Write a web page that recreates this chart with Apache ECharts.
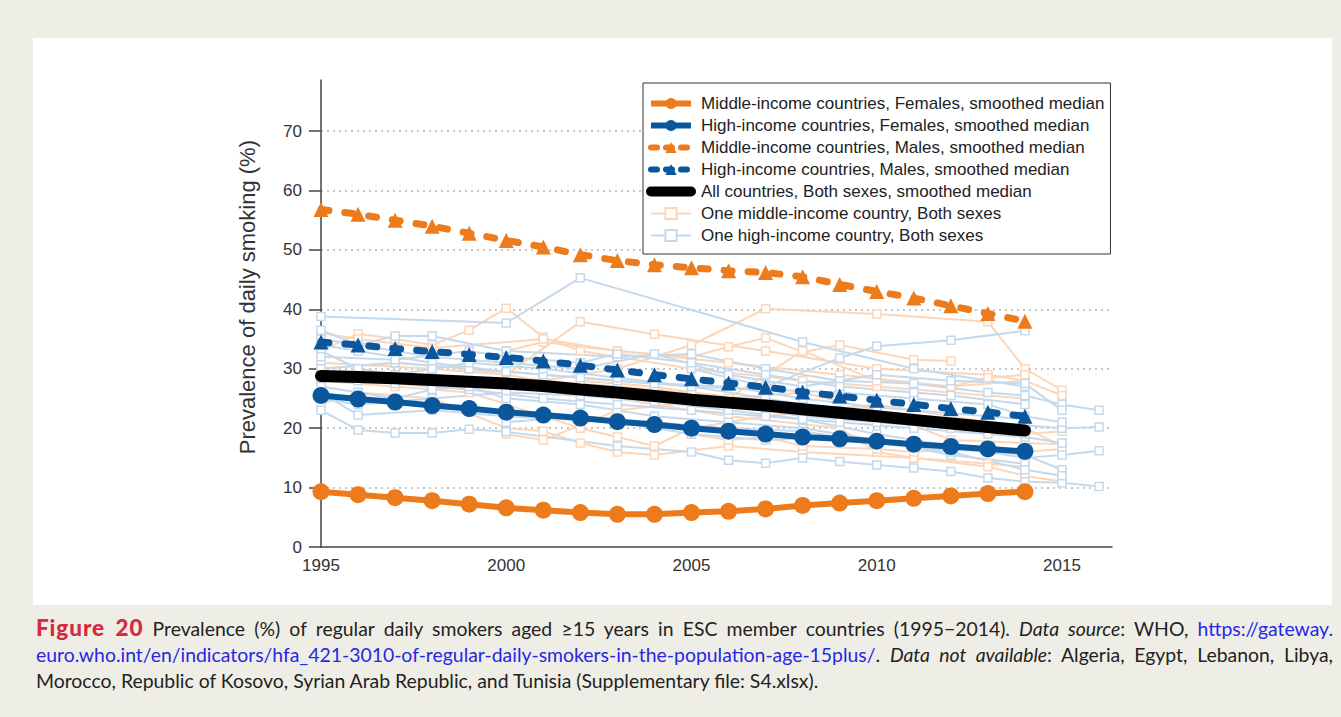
<!DOCTYPE html>
<html>
<head>
<meta charset="utf-8">
<script src="https://cdn.jsdelivr.net/npm/echarts@6/dist/echarts.min.js"></script>
<style>
  html, body { margin:0; padding:0; width:1341px; height:717px; background:#efeee6; overflow:hidden; }
  #panel { position:absolute; left:33px; top:38px; width:1299px; height:567px; background:#ffffff; }
  #chart { position:absolute; left:0; top:0; width:1341px; height:717px; }
  #caption { position:absolute; left:36px; top:615px; width:1297px; font-family:Lato, "Open Sans", sans-serif; font-size:19.4px; line-height:26px; color:#222; }
  #caption .ln { display:block; white-space:nowrap; }
  #caption .j { text-align:justify; text-align-last:justify; }
  #caption .fig { color:#d42a3f; font-weight:900; font-size:22.5px; letter-spacing:0.9px; }
  #caption .lk { color:#2626e6; }
</style>
</head>
<body>
<div id="panel"></div>
<div id="chart"></div>
<div id="caption">
  <div class="ln j"><span class="fig">Figure 20</span> Prevalence (%) of regular daily smokers aged &ge;15 years in ESC member countries (1995&minus;2014). <i>Data source</i>: WHO, <span class="lk">https://gateway.</span></div>
  <div class="ln j"><span class="lk">euro.who.int/en/indicators/hfa_421-3010-of-regular-daily-smokers-in-the-population-age-15plus/</span>. <i>Data not available</i>: Algeria, Egypt, Lebanon, Libya,</div>
  <div class="ln">Morocco, Republic of Kosovo, Syrian Arab Republic, and Tunisia (Supplementary file: S4.xlsx).</div>
</div>
<script>
// ---------- DATA ----------
const years = [1995,1996,1997,1998,1999,2000,2001,2002,2003,2004,2005,2006,2007,2008,2009,2010,2011,2012,2013,2014];
const xTicks = [1995, 2000, 2005, 2010, 2015];
const yTicks = [0, 10, 20, 30, 40, 50, 60, 70];

const midFemales  = [9.3,8.8,8.3,7.8,7.2,6.6,6.2,5.8,5.5,5.5,5.8,6.0,6.4,7.0,7.4,7.8,8.2,8.6,9.0,9.3];
const highFemales = [25.5,24.9,24.4,23.8,23.3,22.7,22.2,21.7,21.1,20.6,20.0,19.5,19.0,18.5,18.2,17.8,17.3,16.9,16.5,16.1];
const midMales    = [56.8,56.0,55.0,54.0,52.8,51.6,50.5,49.2,48.2,47.5,47.0,46.5,46.2,45.5,44.2,43.0,41.9,40.6,39.3,38.0];
const highMales   = [34.5,34.0,33.4,32.9,32.4,31.9,31.3,30.6,29.8,29.0,28.3,27.6,26.9,26.1,25.4,24.7,24.0,23.3,22.7,22.0];
const allBoth     = [28.8,28.6,28.4,28.1,27.8,27.5,27.1,26.5,26.0,25.4,24.8,24.3,23.8,23.2,22.6,22.0,21.4,20.8,20.2,19.6];

// individual countries: [year, value]
const midCountries = [
  [[1995,33],[1996,35.9],[1997,35],[1998,34],[1999,36.5],[2000,40.2],[2001,35.3],[2002,33],[2003,32],[2005,30],[2008,28],[2010,27],[2012,26],[2014,25]],
  [[1995,31],[1998,30],[2000,29],[2002,37.9],[2004,35.8],[2007,33],[2010,30],[2013,29],[2014,28]],
  [[2000,27],[2003,30],[2005,34],[2007,40.1],[2010,39.2],[2013,37.9],[2014,30],[2015,26.4]],
  [[2000,33],[2001,34.5],[2003,33],[2005,32],[2006,33.7],[2007,35.2],[2008,32.8],[2009,34],[2011,31.5],[2012,31.3]],
  [[1995,28],[1997,27],[1999,26],[2000,24],[2001,22],[2002,20],[2003,18.5],[2004,17],[2005,20],[2007,22],[2010,24],[2014,20],[2015,17]],
  [[1995,24],[1996,26],[1998,25],[2000,20],[2001,19.5],[2002,17.5],[2003,16],[2004,15.5],[2006,17],[2008,16],[2011,15],[2013,14],[2014,13.5]],
  [[2000,19],[2001,18],[2003,23],[2006,25],[2008,26],[2010,23],[2012,18],[2014,17.5],[2015,17.3]],
  [[1995,36],[1996,35],[1998,33.5],[2001,35],[2003,33],[2006,31],[2009,29],[2012,27],[2014,28],[2015,25.5]],
  [[2002,28],[2004,27],[2006,25],[2008,33],[2010,28],[2012,27],[2013,28.5],[2014,29]],
  [[2000,28],[2003,25],[2006,22],[2009,20],[2010,16],[2011,15],[2013,13.5],[2014,12],[2015,11]],
  [[1995,30],[1997,31],[1999,30],[2001,28],[2003,27],[2005,26],[2008,24],[2010,22],[2012,21],[2014,19],[2015,19.5]],
  [[2005,19],[2006,18],[2007,18.5],[2008,17],[2010,16.5],[2011,16],[2012,16.5],[2013,17],[2014,16],[2015,16.5]]
];
const highCountries = [
  [[1995,38.8],[2000,37.7],[2002,45.3],[2008,34.5],[2011,30],[2014,27]],
  [[2005,30],[2007,27],[2009,31.8],[2010,33.8],[2012,34.8],[2014,36.4]],
  [[1995,23],[1996,19.7],[1997,19.2],[1998,19.2],[1999,19.8],[2000,19.4],[2003,17],[2005,16],[2006,14.6],[2007,14.1],[2008,15],[2009,14.4],[2010,13.8],[2011,13.3],[2012,12.7],[2013,11.6],[2014,11],[2015,10.8],[2016,10.2]],
  [[1995,36.5],[1996,34],[1997,35.5],[1998,35.5],[2000,33],[2003,32],[2005,32.5],[2007,30],[2009,28],[2011,27.5],[2013,26],[2014,25.5],[2015,24],[2016,23]],
  [[1995,33],[1996,30],[1998,28],[2000,27],[2002,26],[2004,25],[2006,24],[2008,22],[2010,21],[2012,20],[2014,20.5],[2015,20],[2016,20.2]],
  [[1995,26],[1996,22.2],[1998,23],[2000,22],[2003,21],[2005,19],[2007,18],[2009,18.5],[2011,17],[2013,16],[2014,15],[2015,15.5],[2016,16.2]],
  [[1995,30],[1997,31],[1999,30],[2001,29],[2003,28],[2005,27],[2007,26.5],[2009,26],[2011,25],[2013,24],[2014,22],[2015,21]],
  [[1995,35],[1998,32],[2000,31],[2002,30],[2004,32.5],[2006,29],[2008,27],[2010,29],[2012,28],[2014,27.5],[2015,23]],
  [[1995,28],[1997,27.5],[1999,26.5],[2001,25],[2003,24],[2005,23],[2007,22],[2009,21],[2011,20],[2013,19],[2014,18.5],[2015,17.5]],
  [[1995,25],[1996,24],[1998,25],[2000,26],[2002,25.5],[2004,24.5],[2006,23],[2008,21.5],[2010,19],[2012,17],[2014,15.5],[2015,13]],
  [[1995,32],[1997,31.5],[1999,33],[2000,32],[2002,31],[2003,32.5],[2005,31],[2007,29],[2009,27],[2011,26],[2012,25.5],[2014,24]],
  [[1995,27],[1996,26],[1997,25],[1998,26.5],[1999,27],[2000,25],[2002,24],[2004,22],[2006,21],[2008,20],[2010,18],[2012,15.5],[2014,14]],
  [[1995,34],[1996,33],[1998,31],[2000,29.5],[2002,28.5],[2004,27.5],[2006,27],[2008,25],[2010,23.5],[2012,22.5],[2014,21.5]],
  [[2000,21],[2002,22],[2004,21],[2006,20],[2008,19.5],[2010,17.5],[2012,16],[2014,13],[2015,12]],
  [[1995,29],[1996,28],[1997,29],[1998,30],[1999,31],[2001,30],[2003,28.5],[2005,27],[2007,25],[2009,23],[2011,21.5],[2013,20],[2014,19]]
];

const names = {
  mf: 'Middle-income countries, Females, smoothed median',
  hf: 'High-income countries, Females, smoothed median',
  mm: 'Middle-income countries, Males, smoothed median',
  hm: 'High-income countries, Males, smoothed median',
  all: 'All countries, Both sexes, smoothed median',
  oneMid: 'One middle-income country, Both sexes',
  oneHigh: 'One high-income country, Both sexes'
};

// ---------- STYLE ----------
const ORANGE = '#ee7b1b', BLUE = '#0b579e', LORANGE = '#fbd6b8', LBLUE = '#c5d9ed';
const pair = arr => years.map((y, i) => [y, arr[i]]);

const series = [];
midCountries.forEach(d => series.push({
  type:'line', name:names.oneMid, data:d, z:2, symbol:'rect', symbolSize:8, showAllSymbol:true,
  lineStyle:{color:LORANGE, width:2}, itemStyle:{color:'#fff', borderColor:LORANGE, borderWidth:1.5},
  emphasis:{disabled:true}, animation:false
}));
highCountries.forEach(d => series.push({
  type:'line', name:names.oneHigh, data:d, z:2, symbol:'rect', symbolSize:8, showAllSymbol:true,
  lineStyle:{color:LBLUE, width:2}, itemStyle:{color:'#fff', borderColor:LBLUE, borderWidth:1.5},
  emphasis:{disabled:true}, animation:false
}));
series.push({ type:'line', name:names.all, data:pair(allBoth), z:5, symbol:'none',
  lineStyle:{color:'#000', width:12, cap:'round'}, itemStyle:{color:'#000'}, animation:false });
series.push({ type:'line', name:names.mf, data:pair(midFemales), z:6, symbol:'circle', symbolSize:17, showAllSymbol:true,
  lineStyle:{color:ORANGE, width:6}, itemStyle:{color:ORANGE}, animation:false });
series.push({ type:'line', name:names.hf, data:pair(highFemales), z:6, symbol:'circle', symbolSize:17, showAllSymbol:true,
  lineStyle:{color:BLUE, width:6}, itemStyle:{color:BLUE}, animation:false });
series.push({ type:'line', name:names.mm, data:pair(midMales), z:6, symbol:'triangle', symbolSize:15, showAllSymbol:true,
  lineStyle:{color:ORANGE, width:7, type:[8,16], cap:'round'}, itemStyle:{color:ORANGE}, animation:false });
series.push({ type:'line', name:names.hm, data:pair(highMales), z:6, symbol:'triangle', symbolSize:15, showAllSymbol:true,
  lineStyle:{color:BLUE, width:7, type:[8,16], cap:'round'}, itemStyle:{color:BLUE}, animation:false });

const chart = echarts.init(document.getElementById('chart'), null, {renderer:'svg'});
chart.setOption({
  backgroundColor:'transparent',
  animation:false,
  grid:{left:321, right:229, top:80, bottom:170, containLabel:false},
  xAxis:{
    type:'value', min:xTicks[0], max:2016.35, interval:5,
    axisLine:{show:true, lineStyle:{color:'#444', width:1.5}},
    axisTick:{show:false},
    axisLabel:{color:'#333', fontSize:17, fontFamily:'Liberation Sans, Arial, sans-serif', margin:10, showMaxLabel:false,
      formatter: v => xTicks.includes(v) ? String(v) : ''},
    splitLine:{show:false}
  },
  yAxis:{
    type:'value', min:yTicks[0], max:78.6, interval:10,
    axisLine:{show:true, lineStyle:{color:'#444', width:1.5}},
    axisTick:{show:true, length:12, lineStyle:{color:'#444', width:1.5}},
    axisLabel:{color:'#333', fontSize:17, fontFamily:'Liberation Sans, Arial, sans-serif', margin:19, showMaxLabel:false,
      formatter: v => yTicks.includes(v) ? String(v) : ''},
    splitLine:{show:true, showMinLine:false, showMaxLine:false, lineStyle:{color:'#b5b5b5', type:[2,4], width:1.5}}
  },
  legend:{
    orient:'vertical', left:643, top:83, padding:[12,6,10,3],
    borderColor:'#333', borderWidth:1, backgroundColor:'#fff',
    itemWidth:40, itemHeight:14, itemGap:5,
    textStyle:{fontSize:17, lineHeight:17, color:'#222', fontFamily:'Liberation Sans, Arial, sans-serif', padding:[0,0,0,5]},
    selectedMode:false,
    data:[
      {name:names.mf, lineStyle:{width:6}},
      {name:names.hf, lineStyle:{width:6}},
      {name:names.mm, lineStyle:{width:6, type:[6,9], cap:'round'}},
      {name:names.hm, lineStyle:{width:6, type:[6,9], cap:'round'}},
      {name:names.all, lineStyle:{width:10, cap:'round'}, itemStyle:{color:'rgba(0,0,0,0)', borderWidth:0}},
      {name:names.oneMid, lineStyle:{width:2}},
      {name:names.oneHigh, lineStyle:{width:2}}
    ]
  },
  graphic:[{
    type:'text', left:236, top:140, rotation:Math.PI/2,
    style:{text:'Prevalence of daily smoking (%)', fontSize:22, fontFamily:'Liberation Sans, Arial, sans-serif', fill:'#333'}
  }],
  series: series
});
</script>
</body>
</html>
